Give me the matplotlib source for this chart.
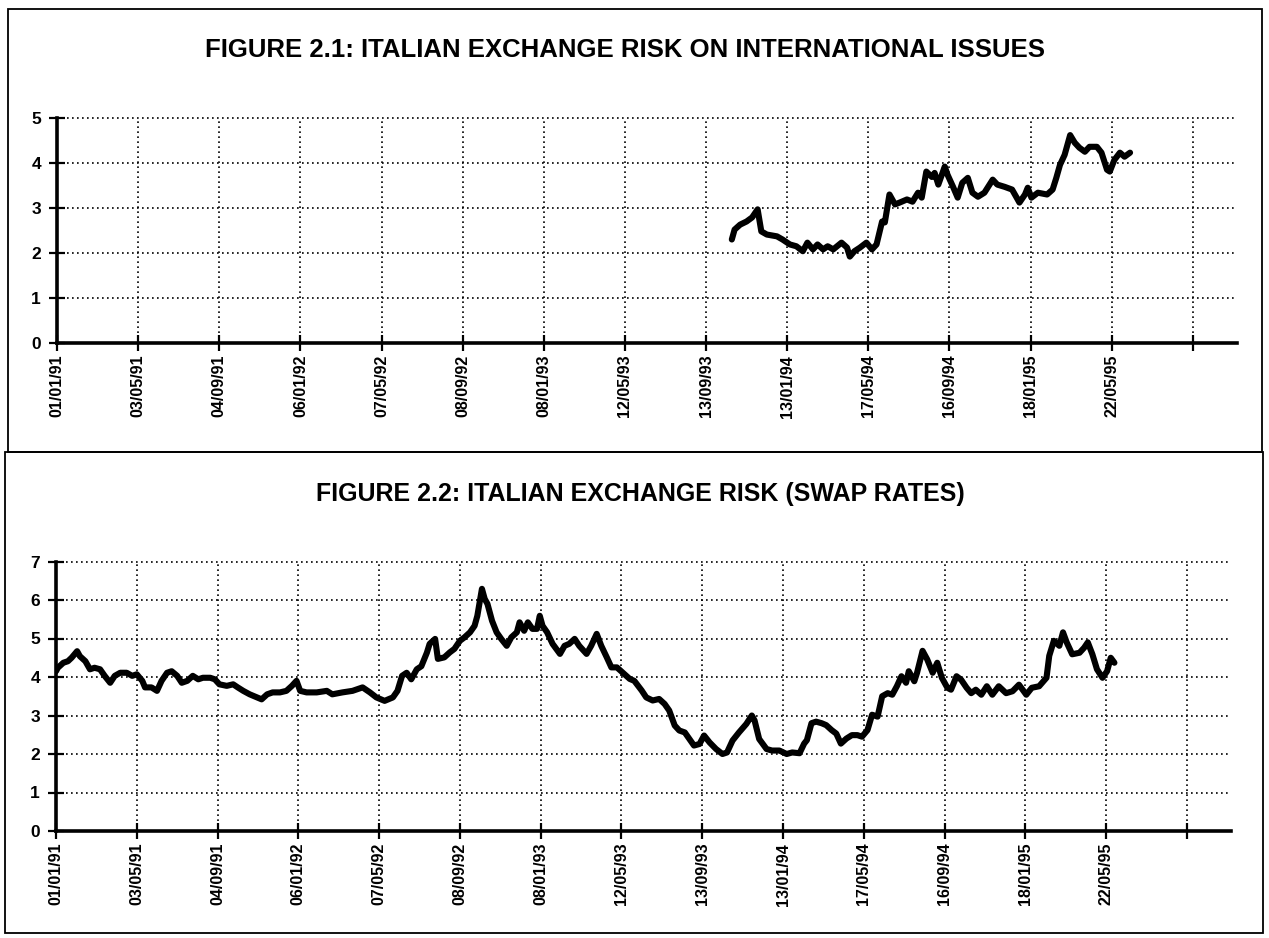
import matplotlib
matplotlib.use('Agg')
import matplotlib.pyplot as plt
from matplotlib.patches import Rectangle

W, H = 1269, 938

tick_labels = ['01/01/91', '03/05/91', '04/09/91', '06/01/92', '07/05/92',
               '08/09/92', '08/01/93', '12/05/93', '13/09/93', '13/01/94',
               '17/05/94', '16/09/94', '18/01/95', '22/05/95', '']
tick_step = 88      # business days between labelled categories
n_slots = 1280

title_1 = 'FIGURE 2.1: ITALIAN EXCHANGE RISK ON INTERNATIONAL ISSUES'
title_2 = 'FIGURE 2.2: ITALIAN EXCHANGE RISK (SWAP RATES)'

# Figure 2.1 - international issues (series starts autumn 1993)
issues_idx = [732, 735, 741, 748, 754, 760, 764, 770, 781, 787,
              795, 802, 809, 814, 820, 825, 831, 836, 842, 851,
              857, 860, 865, 871, 878, 884, 889, 895, 898, 903,
              909, 914, 922, 928, 934, 938, 943, 949, 952, 956,
              963, 966, 972, 977, 982, 988, 993, 999, 1006, 1015,
              1020, 1028, 1036, 1041, 1044, 1050, 1053, 1057, 1064, 1074,
              1080, 1084, 1088, 1093, 1099, 1104, 1109, 1115, 1120, 1128,
              1133, 1139, 1142, 1147, 1153, 1158, 1164]
issues_val = [2.30, 2.52, 2.63, 2.70, 2.79, 2.97, 2.48, 2.41, 2.37, 2.30,
              2.19, 2.15, 2.04, 2.23, 2.08, 2.19, 2.08, 2.15, 2.08, 2.23,
              2.12, 1.92, 2.04, 2.12, 2.23, 2.08, 2.19, 2.70, 2.68, 3.30,
              3.08, 3.12, 3.19, 3.14, 3.34, 3.23, 3.81, 3.69, 3.78, 3.52,
              3.92, 3.74, 3.47, 3.23, 3.56, 3.67, 3.34, 3.25, 3.34, 3.63,
              3.52, 3.47, 3.41, 3.23, 3.12, 3.30, 3.45, 3.23, 3.34, 3.30,
              3.41, 3.67, 3.96, 4.18, 4.62, 4.45, 4.34, 4.25, 4.36, 4.36,
              4.23, 3.85, 3.81, 4.07, 4.23, 4.14, 4.23]

# Figure 2.2 - swap rates
swap_idx = [0, 2, 8, 13, 17, 23, 26, 32, 37, 42, 48, 53, 59, 64, 70, 77, 83,
            88, 94, 97, 104, 110, 115, 121, 126, 132, 137, 143, 149, 155, 160,
            168, 173, 178, 186, 193, 198, 204, 211, 219, 224, 230, 236, 244,
            251, 257, 262, 266, 273, 284, 295, 301, 312, 323, 334, 342, 349,
            358, 367, 372, 377, 382, 387, 393, 398, 404, 407, 413, 416, 423,
            429, 434, 440, 445, 451, 456, 459, 464, 467, 470, 475, 480, 485,
            491, 496, 502, 505, 510, 514, 519, 524, 527, 530, 535, 541, 549,
            554, 559, 565, 570, 578, 583, 589, 594, 600, 605, 611, 617, 625,
            630, 638, 643, 650, 657, 663, 668, 674, 679, 685, 690, 695, 701,
            706, 712, 719, 726, 731, 737, 744, 752, 758, 761, 766, 774, 780,
            788, 796, 802, 810, 815, 818, 823, 828, 834, 839, 845, 850, 855,
            861, 867, 873, 878, 884, 889, 895, 900, 906, 911, 916, 921, 926,
            929, 935, 938, 944, 949, 955, 960, 965, 971, 975, 981, 986, 992,
            997, 1002, 1008, 1014, 1020, 1027, 1035, 1042, 1049, 1057, 1063,
            1071, 1079, 1082, 1087, 1093, 1097, 1101, 1107, 1115, 1120, 1124,
            1129, 1134, 1140, 1145, 1149, 1153]
swap_val = [4.15, 4.24, 4.37, 4.41, 4.50, 4.67, 4.54, 4.41, 4.20, 4.24, 4.20,
            4.03, 3.85, 4.03, 4.11, 4.11, 4.03, 4.07, 3.90, 3.73, 3.73, 3.64,
            3.90, 4.11, 4.15, 4.03, 3.85, 3.90, 4.03, 3.94, 3.98, 3.98, 3.94,
            3.81, 3.77, 3.81, 3.73, 3.64, 3.55, 3.47, 3.42, 3.55, 3.60, 3.60,
            3.64, 3.77, 3.90, 3.64, 3.60, 3.60, 3.64, 3.55, 3.60, 3.64, 3.73,
            3.60, 3.47, 3.38, 3.47, 3.64, 4.03, 4.11, 3.94, 4.20, 4.28, 4.63,
            4.86, 4.99, 4.47, 4.51, 4.64, 4.73, 4.94, 5.03, 5.16, 5.33, 5.59,
            6.29, 6.03, 5.90, 5.46, 5.16, 4.99, 4.81, 5.03, 5.16, 5.42, 5.20,
            5.42, 5.25, 5.25, 5.59, 5.33, 5.16, 4.86, 4.60, 4.81, 4.86, 4.99,
            4.81, 4.60, 4.81, 5.12, 4.81, 4.51, 4.25, 4.25, 4.12, 3.95, 3.90,
            3.65, 3.47, 3.39, 3.43, 3.30, 3.13, 2.74, 2.61, 2.56, 2.39, 2.22,
            2.26, 2.48, 2.30, 2.13, 2.00, 2.04, 2.35, 2.56, 2.78, 3.00, 2.87,
            2.39, 2.13, 2.09, 2.09, 2.00, 2.04, 2.02, 2.27, 2.36, 2.80, 2.84,
            2.80, 2.75, 2.62, 2.53, 2.27, 2.40, 2.49, 2.49, 2.45, 2.62, 3.02,
            2.97, 3.50, 3.58, 3.54, 3.76, 4.02, 3.85, 4.15, 3.89, 4.11, 4.68,
            4.46, 4.11, 4.37, 3.98, 3.72, 3.67, 4.02, 3.93, 3.72, 3.58, 3.67,
            3.54, 3.76, 3.54, 3.76, 3.58, 3.63, 3.80, 3.54, 3.72, 3.76, 3.98,
            4.55, 4.94, 4.81, 5.16, 4.90, 4.59, 4.63, 4.76, 4.90, 4.59, 4.20,
            3.98, 4.15, 4.50, 4.37]

plt.rcParams['font.family'] = ['Liberation Sans', 'DejaVu Sans']
plt.rcParams['font.weight'] = 'bold'

fig = plt.figure(figsize=(W / 100, H / 100), dpi=100)


def box(x0, y0, x1, y1):
    # pixel coords measured from the top-left corner
    fig.add_artist(Rectangle((x0 / W, 1 - y1 / H), (x1 - x0) / W, (y1 - y0) / H,
                             transform=fig.transFigure, fill=False,
                             lw=1.3, ec='black'))


def panel(left, right, bottom, top, xs, ys, ymax):
    ax = fig.add_axes([left / W, 1 - bottom / H, (right - left) / W, (bottom - top) / H])
    ax.plot(xs, ys, color='black', lw=4.4, solid_joinstyle='round',
            solid_capstyle='round', zorder=3)
    ax.set_xlim(0, n_slots)
    ax.set_ylim(0, ymax)
    ticks = list(range(0, tick_step * len(tick_labels), tick_step))
    ax.set_xticks(ticks)
    ax.set_xticklabels(tick_labels, rotation=90, fontsize=11.5, fontweight='bold')
    ax.set_yticks(range(0, ymax + 1))
    ax.set_yticklabels([str(v) for v in range(0, ymax + 1)], fontsize=12.5, fontweight='bold')
    ax.tick_params(axis='both', direction='inout', length=11, width=1.6, color='black')
    ax.tick_params(axis='x', pad=3)
    ax.tick_params(axis='y', pad=6)
    ax.grid(True, color='black', linestyle=(0, (1, 2.0)), linewidth=1.2)
    for side in ['top', 'right']:
        ax.spines[side].set_visible(False)
    for side in ['left', 'bottom']:
        ax.spines[side].set_linewidth(2.6)
    for gl in ax.get_xgridlines() + ax.get_ygridlines():
        gl.set_clip_on(False)
    return ax


box(8, 9, 1262, 452)
box(5, 452, 1263, 933)

panel(57, 1237, 343, 118, issues_idx, issues_val, 5)
panel(56, 1231, 831, 561.5, swap_idx, swap_val, 7)

fig.text(625 / W, 1 - 50 / H, title_1, ha='center', va='center',
         fontsize=18.5, fontweight='bold')
fig.text(640 / W, 1 - 494 / H, title_2, ha='center', va='center',
         fontsize=18, fontweight='bold')

fig.savefig('out.png', dpi=100)
